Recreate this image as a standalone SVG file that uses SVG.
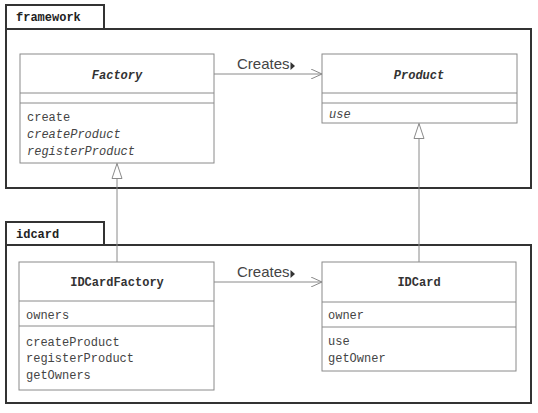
<svg xmlns="http://www.w3.org/2000/svg" width="538" height="413" viewBox="0 0 538 413">
<style>
.pkg{fill:none;stroke:#333;stroke-width:2}
.box{fill:#fff;stroke:#8a8a8a;stroke-width:1}
.div{stroke:#8a8a8a;stroke-width:1}
.mono{font-family:"Liberation Mono","Courier New",monospace;font-size:12px;fill:#444}
.name{font-weight:bold;text-anchor:middle;fill:#333}
.tab{font-family:"Liberation Mono","Courier New",monospace;font-size:12px;font-weight:bold;fill:#222}
.lbl{font-family:"Liberation Sans",Arial,sans-serif;font-size:15px;fill:#444}
.ln{stroke:#8a8a8a;stroke-width:1;fill:none}
.it{font-style:italic}
</style>
<defs>
<marker id="open" markerWidth="12" markerHeight="10" refX="11" refY="5" orient="auto" markerUnits="userSpaceOnUse">
<path d="M0,0 L11,5 L0,10" fill="none" stroke="#8a8a8a" stroke-width="1"/>
</marker>
<marker id="gen" markerWidth="16" markerHeight="12" refX="15" refY="6" orient="auto" markerUnits="userSpaceOnUse">
<path d="M15,6 L0,1 L0,11 Z" fill="#fff" stroke="#8a8a8a" stroke-width="1"/>
</marker>
</defs>
<g id="pkg-framework">
<rect class="pkg" x="6" y="29" width="525" height="159"/>
<rect class="pkg" x="6" y="5" width="98" height="24"/>
<text class="tab" x="16" y="21">framework</text>
</g>
<g id="pkg-idcard">
<rect class="pkg" x="6" y="245" width="525" height="158"/>
<rect class="pkg" x="6" y="222" width="98" height="23"/>
<text class="tab" x="16" y="238">idcard</text>
</g>
<g id="connectors">
<line class="ln" x1="214" y1="74" x2="322" y2="74" marker-end="url(#open)"/>
<line class="ln" x1="214" y1="282" x2="322" y2="282" marker-end="url(#open)"/>
<line class="ln" x1="117" y1="262" x2="117" y2="163.5" marker-end="url(#gen)"/>
<line class="ln" x1="419" y1="262" x2="419" y2="123.5" marker-end="url(#gen)"/>
<text class="lbl" x="237" y="69">Creates</text>
<path d="M290.5,62 L295,66 L290.5,70 Z" fill="#333"/>
<text class="lbl" x="237" y="277">Creates</text>
<path d="M290.5,270 L295,274 L290.5,278 Z" fill="#333"/>
</g>
<g id="Factory">
<rect class="box" x="20" y="54" width="194" height="109"/>
<line class="div" x1="20" y1="93" x2="214" y2="93"/>
<line class="div" x1="20" y1="103" x2="214" y2="103"/>
<text class="mono name it" x="117" y="79">Factory</text>
<text class="mono" x="27" y="121">create</text>
<text class="mono it" x="27" y="138">createProduct</text>
<text class="mono it" x="27" y="155">registerProduct</text>
</g>
<g id="Product">
<rect class="box" x="322" y="54" width="195" height="69"/>
<line class="div" x1="322" y1="93" x2="517" y2="93"/>
<line class="div" x1="322" y1="103" x2="517" y2="103"/>
<text class="mono name it" x="419" y="79">Product</text>
<text class="mono it" x="329" y="118">use</text>
</g>
<g id="IDCardFactory">
<rect class="box" x="19" y="262" width="195" height="128"/>
<line class="div" x1="19" y1="301" x2="214" y2="301"/>
<line class="div" x1="19" y1="326" x2="214" y2="326"/>
<text class="mono name" x="117" y="286">IDCardFactory</text>
<text class="mono" x="26" y="319">owners</text>
<text class="mono" x="26" y="346">createProduct</text>
<text class="mono" x="26" y="362">registerProduct</text>
<text class="mono" x="26" y="379">getOwners</text>
</g>
<g id="IDCard">
<rect class="box" x="322" y="262" width="194" height="109"/>
<line class="div" x1="322" y1="302" x2="516" y2="302"/>
<line class="div" x1="322" y1="327" x2="516" y2="327"/>
<text class="mono name" x="419" y="286">IDCard</text>
<text class="mono" x="328" y="319">owner</text>
<text class="mono" x="328" y="345">use</text>
<text class="mono" x="328" y="362">getOwner</text>
</g>
</svg>
